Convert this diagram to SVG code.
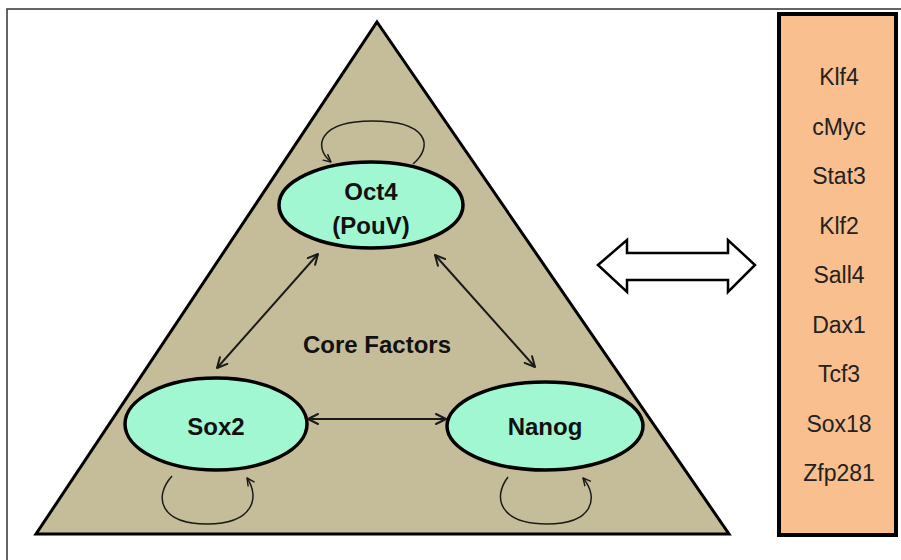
<svg xmlns="http://www.w3.org/2000/svg" width="901" height="560" viewBox="0 0 901 560">
<defs>
<marker id="open" viewBox="0 0 12 12" refX="11" refY="6" markerWidth="12" markerHeight="12" markerUnits="userSpaceOnUse" orient="auto-start-reverse">
<path d="M1,1 L11,6 L1,11" fill="none" stroke="#1a1a1a" stroke-width="2" stroke-linecap="round" stroke-linejoin="round"/>
</marker>
<marker id="loophead" viewBox="0 0 10 10" refX="9" refY="5" markerWidth="9" markerHeight="9" markerUnits="userSpaceOnUse" orient="auto">
<path d="M1,1 L9,5 L1,9" fill="none" stroke="#1a1a1a" stroke-width="1.6" stroke-linecap="round" stroke-linejoin="round"/>
</marker>
<style>
.node{fill:#a0f7d2;stroke:#000;stroke-width:3.5}
.lbl{font-family:"Liberation Sans",Arial,sans-serif;font-weight:bold;font-size:24px;fill:#111;text-anchor:middle}
.item{font-family:"Liberation Sans",Arial,sans-serif;font-size:23px;fill:#222;text-anchor:middle}
.edge{fill:none;stroke:#1a1a1a;stroke-width:2}
.loop{fill:none;stroke:#1a1a1a;stroke-width:1.5}
</style>
</defs>
<rect width="901" height="560" fill="#fff"/>
<path d="M7,560 V9 H901" fill="none" stroke="#333" stroke-width="1.5"/>
<g id="triangle">
<polygon points="377,22 729,534 36,534" fill="#c5bd99" stroke="#000" stroke-width="3" stroke-linejoin="miter"/>
<text class="lbl" x="377" y="353">Core Factors</text>
</g>
<g id="connectors">
<line class="edge" x1="318" y1="254" x2="217" y2="368" marker-start="url(#open)" marker-end="url(#open)"/>
<line class="edge" x1="435" y1="255" x2="535" y2="367" marker-start="url(#open)" marker-end="url(#open)"/>
<line class="edge" x1="308" y1="419" x2="446" y2="419" marker-start="url(#open)" marker-end="url(#open)"/>
<path class="loop" d="M413,164 C434,146 428,121 372,121 C320,121 312,146 331,162" marker-end="url(#loophead)"/>
<path class="loop" d="M172,476 C153,497 160,524 207,524 C254,524 260,497 247,478" marker-end="url(#loophead)"/>
<path class="loop" d="M508,477 C492,498 500,524 547,524 C594,524 599,497 583,478" marker-end="url(#loophead)"/>
</g>
<g id="oct4">
<ellipse class="node" cx="371" cy="205" rx="92" ry="43"/>
<text class="lbl" x="371" y="200">Oct4</text>
<text class="lbl" x="371" y="234">(PouV)</text>
</g>
<g id="sox2">
<ellipse class="node" cx="216" cy="424" rx="91" ry="46"/>
<text class="lbl" x="216" y="435">Sox2</text>
</g>
<g id="nanog">
<ellipse class="node" cx="545" cy="426" rx="98" ry="44"/>
<text class="lbl" x="545" y="435">Nanog</text>
</g>
<g id="double-arrow">
<polygon points="598,265 627,240 627,253 728,253 728,240 755,265 728,292 728,280 627,280 627,292" fill="#fff" stroke="#000" stroke-width="2.5" stroke-linejoin="miter"/>
</g>
<g id="factors">
<rect x="779" y="14" width="117" height="521" fill="#f9bf8f" stroke="#000" stroke-width="4"/>
<text class="item" x="839" y="85">Klf4</text>
<text class="item" x="839" y="134.5">cMyc</text>
<text class="item" x="839" y="184">Stat3</text>
<text class="item" x="839" y="233.5">Klf2</text>
<text class="item" x="839" y="283">Sall4</text>
<text class="item" x="839" y="332.5">Dax1</text>
<text class="item" x="839" y="382">Tcf3</text>
<text class="item" x="839" y="431.5">Sox18</text>
<text class="item" x="839" y="481">Zfp281</text>
</g>
</svg>
